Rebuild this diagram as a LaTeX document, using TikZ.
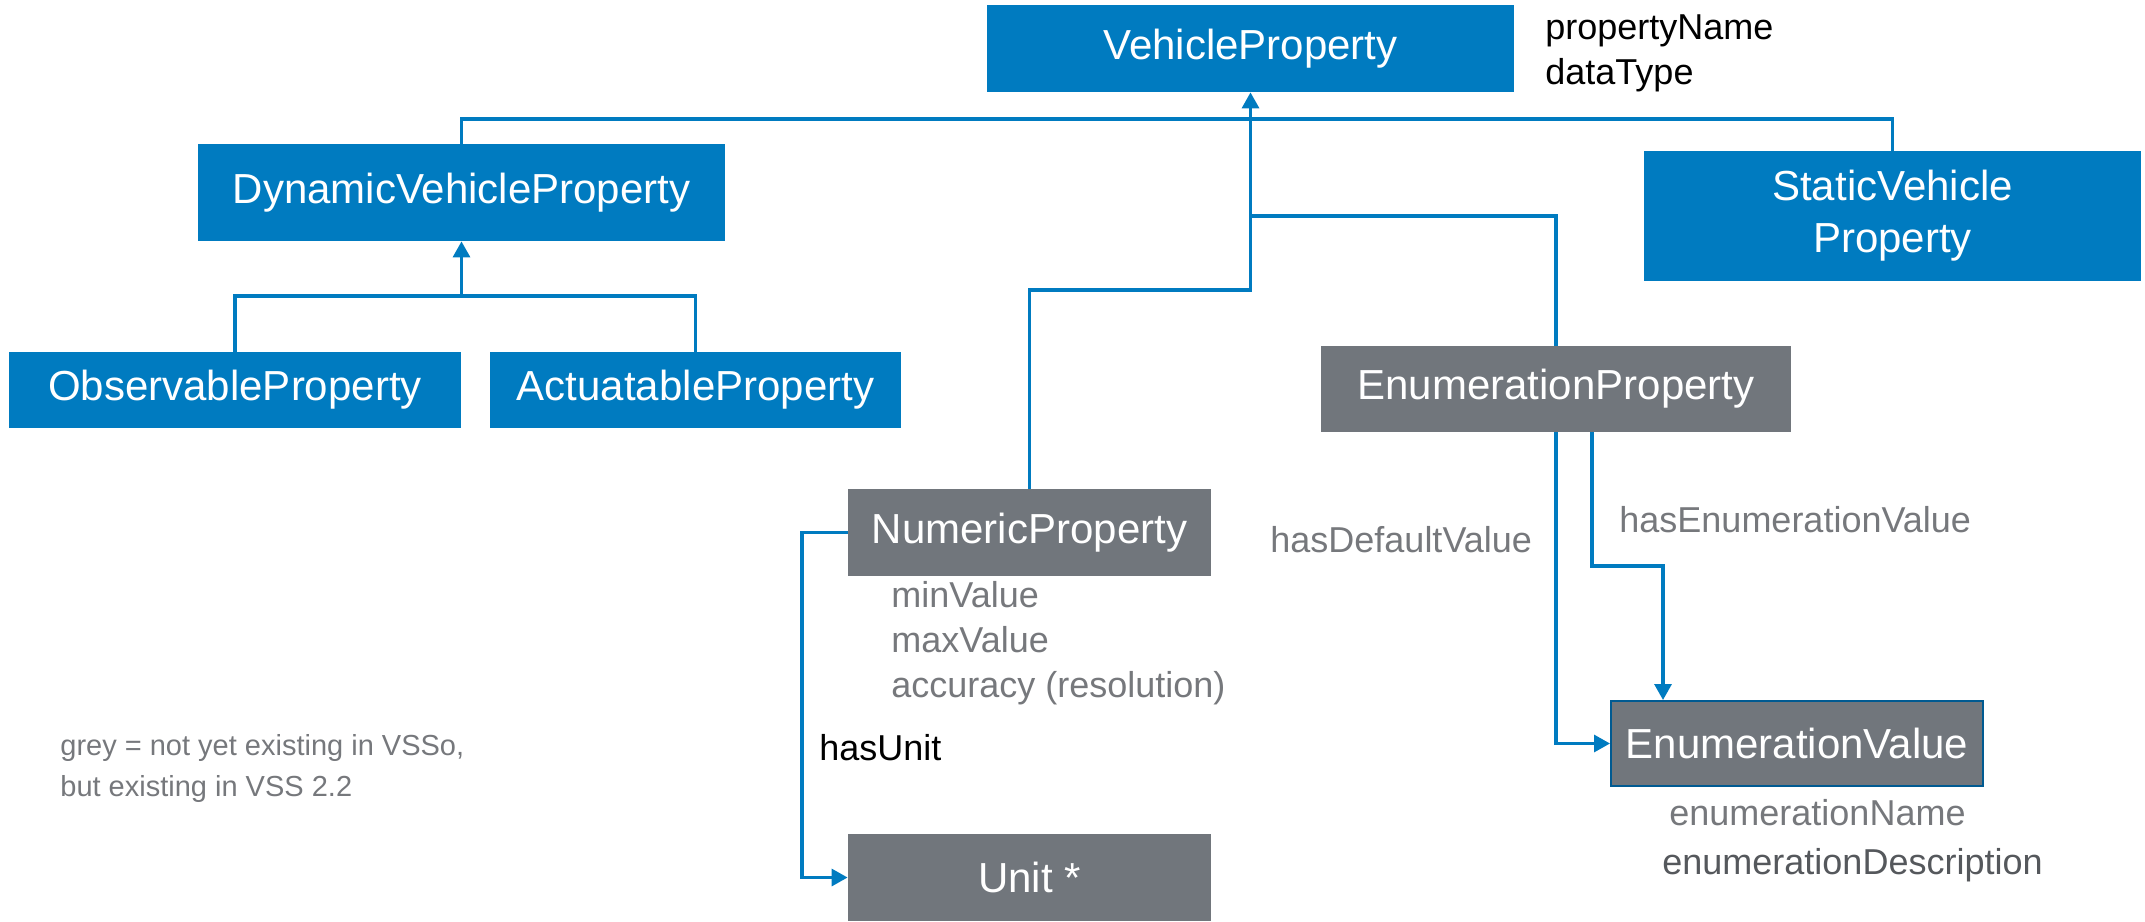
\documentclass[tikz,border=0pt]{standalone}
\usepackage{fontspec}
\setmainfont{Liberation Sans}
\usetikzlibrary{arrows.meta}
\definecolor{bblue}{RGB}{0,123,192}
\definecolor{bgray}{RGB}{113,118,124}
\definecolor{tgray}{RGB}{118,120,124}
\definecolor{dgray}{RGB}{85,88,92}
\definecolor{bdark}{RGB}{0,90,145}
\tikzset{
  box/.style={fill=bblue, text=white, inner sep=0pt, align=center,
    font=\fontsize{21pt}{26pt}\selectfont},
  gbox/.style={box, fill=bgray},
  conn/.style={draw=bblue, line width=1.6pt},
  arr/.style={conn, -{Triangle[length=8pt,width=8.5pt]}},
  lbl/.style={inner sep=0pt, anchor=west, align=left, text=tgray,
    font=\fontsize{18pt}{22.5pt}\selectfont},
}
\begin{document}
\begin{tikzpicture}[x=0.5pt,y=-0.5pt]
\useasboundingbox (0,0) rectangle (2145,921);
% boxes
\node[box, minimum width=263.5pt, minimum height=43.5pt] (vp) at (1250.5,48.5) {VehicleProperty};
\node[box, minimum width=263.5pt, minimum height=48.5pt] (dvp) at (461.5,192.5) {DynamicVehicleProperty};
\node[box, minimum width=248.5pt, minimum height=65pt] (svp) at (1892.5,216) {StaticVehicle\\Property};
\node[box, minimum width=226pt, minimum height=38pt] (obs) at (235,390) {ObservableProperty};
\node[box, minimum width=205.5pt, minimum height=38pt] (act) at (695.5,390) {ActuatableProperty};
\node[gbox, minimum width=235pt, minimum height=43pt] (ep) at (1556,389) {EnumerationProperty};
\node[gbox, minimum width=181.5pt, minimum height=43.5pt] (np) at (1029.5,532.5) {NumericProperty};
\node[gbox, minimum width=181.5pt, minimum height=43.5pt] (unit) at (1029.5,877.5) {Unit *};
\node[gbox, draw=bdark, line width=1pt, minimum width=186pt, minimum height=42.5pt] (ev) at (1797,743.5) {EnumerationValue};
% texts
\node[lbl, text=black] (vpattr) at (1545,53) {propertyName\\dataType};
\node[lbl] (npattr) at (891,643) {minValue\\maxValue\\accuracy (resolution)};
\node[lbl, text=black] (hu) at (819,748) {hasUnit};
\node[lbl] (hdv) at (1270,540) {hasDefaultValue};
\node[lbl] (hev) at (1619,520) {hasEnumerationValue};
\node[lbl] (en) at (1669,813) {enumerationName};
\node[lbl, text=dgray] (ed) at (1662,865) {enumerationDescription};
\node[lbl, font=\fontsize{14.5pt}{20.5pt}\selectfont] (legend) at (60,768) {grey = not yet existing in VSSo,\\but existing in VSS 2.2};
% junctions
\coordinate (h1) at (1250.5,119);
\coordinate (h2) at (1250.5,290);
\coordinate (h3) at (1250.5,216);
\coordinate (h4) at (461.5,296);
\coordinate (nu) at (802,532.5);
\coordinate (k) at (1663,566);
% connectors
\draw[conn] (dvp.north) |- (h1) -| (svp.north);
\draw[arr] (np.north) |- (h2) -- (vp.south);
\draw[conn] (ep.north) |- (h3);
\draw[conn] (obs.north) |- (h4) -| (act.north);
\draw[arr] (h4) -- (dvp.south);
\draw[arr] (np.west) -- (nu) |- (unit.west);
\draw[arr] (ep.south) |- (ev.west);
\draw[arr] ([xshift=18pt]ep.south) |- (k) -- (k |- ev.north);
\end{tikzpicture}
\end{document}
